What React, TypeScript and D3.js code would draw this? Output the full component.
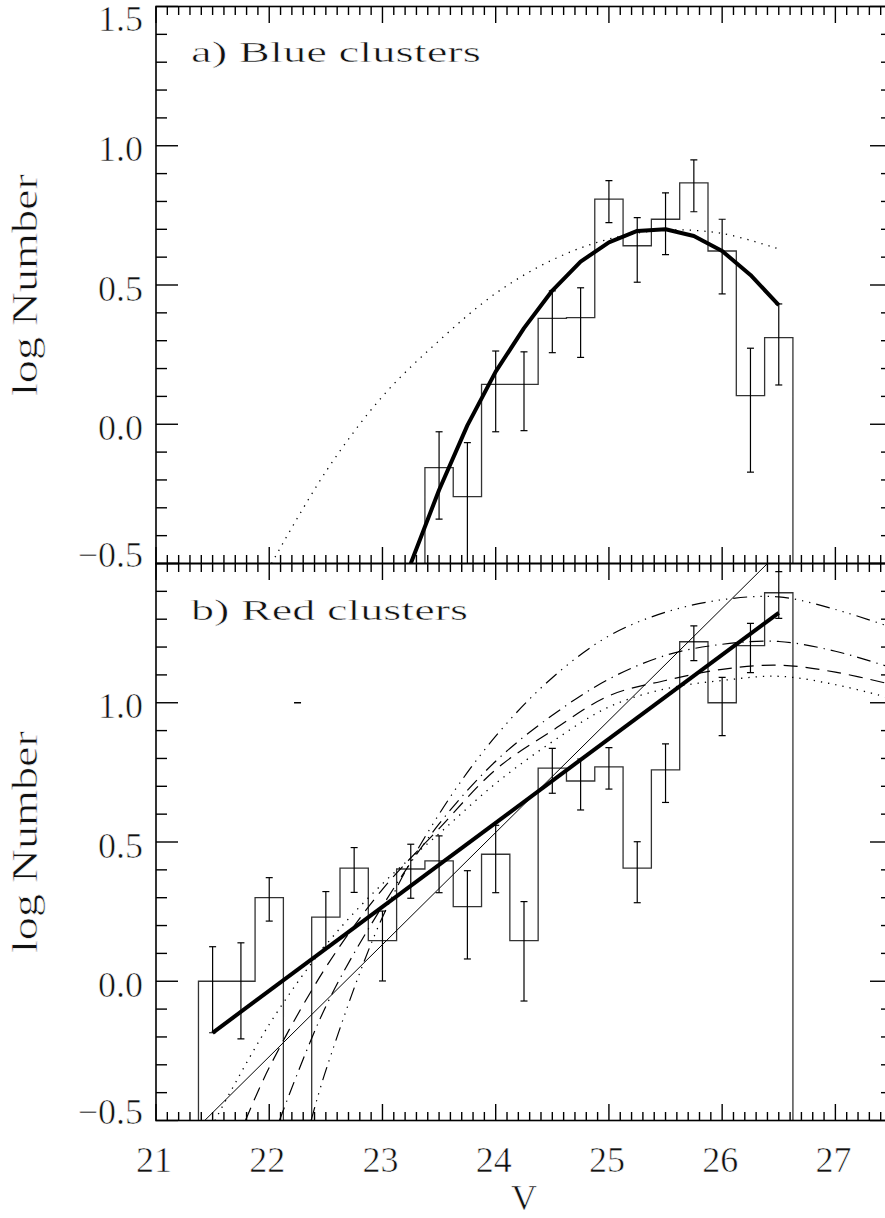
import React from "react";
import * as d3 from "d3";

// ---------- axes ----------
const vDomain: [number, number] = [21, 27.5];
const logDomain: [number, number] = [-0.5, 1.5];
const vTickLabels = [21, 22, 23, 24, 25, 26, 27];
const topLogLabels = [1.5, 1.0, 0.5, 0.0, -0.5];
const botLogLabels = [1.0, 0.5, 0.0, -0.5];
const binHalf = 0.125;

// ---------- a) Blue clusters ----------
const blueV = [23.5, 23.75, 24.0, 24.25, 24.5, 24.75, 25.0, 25.25, 25.5, 25.75, 26.0, 26.25, 26.5];
const blueLogN = [-0.156, -0.26, 0.143, 0.143, 0.38, 0.383, 0.808, 0.641, 0.736, 0.867, 0.622, 0.103, 0.311];
const blueErrHi = [-0.027, -0.066, 0.263, 0.26, 0.479, 0.49, 0.875, 0.742, 0.831, 0.949, 0.736, 0.273, 0.432];
const blueErrLo: (number | null)[] = [-0.341, null, -0.027, -0.023, 0.257, 0.24, 0.724, 0.51, 0.609, 0.763, 0.468, -0.172, 0.141];

const blueFitV = [23.25, 23.5, 23.75, 24.0, 24.25, 24.5, 24.75, 25.0, 25.25, 25.5, 25.75, 26.0, 26.25, 26.5];
const blueFitLogN = [-0.5, -0.236, -0.004, 0.189, 0.345, 0.48, 0.584, 0.653, 0.694, 0.7, 0.676, 0.622, 0.536, 0.428];

const blueGaussV = [22.02, 22.5, 23.0, 23.5, 24.0, 24.5, 25.0, 25.5, 26.0, 26.48];
const blueGaussLogN = [-0.5, -0.17, 0.1, 0.3, 0.47, 0.59, 0.665, 0.697, 0.685, 0.632];

// ---------- b) Red clusters ----------
const redV = [21.5, 21.75, 22.0, 22.25, 22.5, 22.75, 23.0, 23.25, 23.5, 23.75, 24.0, 24.25, 24.5, 24.75, 25.0, 25.25, 25.5, 25.75, 26.0, 26.25, 26.5];
const redLogN: (number | null)[] = [0.0, 0.0, 0.3, null, 0.23, 0.406, 0.146, 0.403, 0.432, 0.268, 0.456, 0.146, 0.765, 0.719, 0.77, 0.406, 0.759, 1.219, 1.0, 1.205, 1.395];
const redErrHi: (number | null)[] = [0.124, 0.138, 0.372, null, 0.322, 0.48, 0.252, 0.492, 0.522, 0.397, 0.56, 0.286, 0.836, 0.798, 0.839, 0.501, 0.852, 1.276, 1.091, 1.285, 1.471];
const redErrLo: (number | null)[] = [-0.185, -0.207, 0.216, null, 0.12, 0.319, 0.001, 0.298, 0.318, 0.08, 0.318, -0.071, 0.675, 0.615, 0.69, 0.282, 0.642, 1.151, 0.882, 1.108, 1.303];
const redLoneCapV = 22.25;
const redLoneCapLogN = 1.0;

// power-law fits
const redThickV = [21.5, 26.5];
const redThickLogN = [-0.185, 1.323];
const redThinV = [21.43, 26.4];
const redThinLogN = [-0.5, 1.5];

// Gaussian luminosity functions
const gaussAV = [22.37, 22.5, 23.0, 23.5, 24.0, 24.5, 25.0, 25.5, 26.0, 26.5, 27.0, 27.5];
const gaussALogN = [-0.5, -0.32, 0.23, 0.6, 0.88, 1.09, 1.24, 1.325, 1.37, 1.38, 1.335, 1.27];
const gaussBV = [22.09, 22.5, 23.0, 23.5, 24.0, 24.5, 25.0, 25.5, 26.0, 26.5, 27.0, 27.5];
const gaussBLogN = [-0.5, -0.09, 0.27, 0.565, 0.79, 0.955, 1.085, 1.17, 1.21, 1.22, 1.185, 1.125];
const gaussCV = [21.79, 22.0, 22.5, 23.0, 23.5, 24.0, 24.5, 25.0, 25.5, 26.0, 26.5, 27.0, 27.5];
const gaussCLogN = [-0.5, -0.31, 0.05, 0.33, 0.548, 0.76, 0.9, 1.025, 1.08, 1.12, 1.135, 1.11, 1.065];
const gaussDV = [21.52, 22.0, 22.5, 23.0, 23.5, 24.0, 24.5, 25.0, 25.5, 26.0, 26.5, 27.0, 27.5];
const gaussDLogN = [-0.5, -0.155, 0.13, 0.35, 0.53, 0.71, 0.86, 0.985, 1.05, 1.08, 1.095, 1.065, 1.015];

// ---------- layout ----------
const W = 885;
const H = 1218;
const X0 = 156;
const X1 = 892;
const Y_TOP = 6.5;
const Y_MID = 563.5;
const Y_BOT = 1120.5;
const FONT = "'Liberation Serif', 'DejaVu Serif', serif";
// a faint white outline painted over the glyphs keeps the lettering light
const thinText = { stroke: "#fff", strokeWidth: 0.6, strokeLinejoin: "round" as const };

const x = d3.scaleLinear().domain(vDomain).range([X0, X1]);
const yA = d3.scaleLinear().domain(logDomain).range([Y_MID, Y_TOP]);
const yB = d3.scaleLinear().domain(logDomain).range([Y_BOT, Y_MID]);
const fmt = d3.format(".1f");

type Scale = d3.ScaleLinear<number, number>;

function histPath(centers: number[], vals: (number | null)[], y: Scale) {
  const floor = logDomain[0];
  const p = d3.path();
  p.moveTo(x(centers[0] - binHalf), y(floor));
  centers.forEach((c, i) => {
    const v = vals[i] ?? floor;
    p.lineTo(x(c - binHalf), y(v));
    p.lineTo(x(c + binHalf), y(v));
  });
  p.lineTo(x(centers[centers.length - 1] + binHalf), y(floor));
  return p.toString();
}

function curve(vs: number[], ls: number[], y: Scale, smooth: boolean) {
  const gen = d3
    .line<number>()
    .x((_, i) => x(vs[i]))
    .y((d) => y(d))
    .curve(smooth ? d3.curveCatmullRom.alpha(0.5) : d3.curveLinear);
  return gen(ls) || "";
}

function ErrorBars({ vs, hi, lo, y }: { vs: number[]; hi: (number | null)[]; lo: (number | null)[]; y: Scale }) {
  const cap = 3.5;
  return (
    <g stroke="#000" strokeWidth={1.2}>
      {vs.map((v, i) => {
        const h = hi[i];
        if (h == null) return null;
        const l = lo[i];
        const xc = x(v);
        const yh = y(h);
        const yl = y(l ?? logDomain[0]);
        return (
          <g key={i}>
            <line x1={xc} x2={xc} y1={yh} y2={yl} />
            <line x1={xc - cap} x2={xc + cap} y1={yh} y2={yh} />
            {l != null && <line x1={xc - cap} x2={xc + cap} y1={yl} y2={yl} />}
          </g>
        );
      })}
    </g>
  );
}

function Frame({ y, top, bottom, labels, showX }: { y: Scale; top: number; bottom: number; labels: number[]; showX: boolean }) {
  const yTicks = d3.range(-5, 16).map((i) => ({ v: i / 10, major: i % 5 === 0 }));
  const xTicks = d3.range(210, 276).map((i) => ({ v: i / 10, major: i % 10 === 0 }));
  const yMaj = 22;
  const yMin = 11;
  const xMaj = 16.5;
  const xMin = 8.5;
  const labelBaseline = (v: number) => {
    const yy = y(v);
    if (v === logDomain[1]) return yy + 24.5;
    if (v === logDomain[0]) return yy + 3.5;
    return yy + 15.5;
  };
  return (
    <g>
      <g stroke="#000" strokeWidth={1.4}>
        {yTicks.map((t, i) => {
          const yy = y(t.v);
          const len = t.major ? yMaj : yMin;
          return (
            <g key={i}>
              <line x1={X0} x2={X0 + len} y1={yy} y2={yy} />
              <line x1={X1} x2={X1 - len} y1={yy} y2={yy} />
            </g>
          );
        })}
        {xTicks.map((t, i) => {
          const xx = x(t.v);
          const len = t.major ? xMaj : xMin;
          return (
            <g key={i}>
              <line x1={xx} x2={xx} y1={bottom} y2={bottom - len} />
              <line x1={xx} x2={xx} y1={top} y2={top + len} />
            </g>
          );
        })}
        <rect x={X0} y={top} width={X1 - X0} height={bottom - top} fill="none" strokeWidth={1.6} />
      </g>
      <g fontFamily={FONT} fontSize={36} fill="#111" {...thinText}>
        {labels.map((v) => (
          <text key={v} x={143} y={labelBaseline(v)} textAnchor="end">
            {fmt(v)}
          </text>
        ))}
        {showX &&
          vTickLabels.map((v) => (
            <text key={v} x={x(v) - 2} y={1172} textAnchor="middle">
              {v}
            </text>
          ))}
      </g>
    </g>
  );
}

export default function App() {
  const clipA = { x: X0, y: Y_TOP, w: X1 - X0, h: Y_MID - Y_TOP };
  const clipB = { x: X0, y: Y_MID, w: X1 - X0, h: Y_BOT - Y_MID };
  return (
    <div style={{ position: "absolute", left: 0, top: 0 }}>
      <svg width={W} height={H} viewBox={`0 0 ${W} ${H}`} style={{ display: "block", background: "#fff" }}>
        <defs>
          <clipPath id="clip-a">
            <rect x={clipA.x} y={clipA.y} width={clipA.w} height={clipA.h} />
          </clipPath>
          <clipPath id="clip-b">
            <rect x={clipB.x} y={clipB.y} width={clipB.w} height={clipB.h} />
          </clipPath>
        </defs>

        {/* a) Blue clusters */}
        <g clipPath="url(#clip-a)">
          <path d={histPath(blueV, blueLogN, yA)} fill="none" stroke="#333" strokeWidth={1.3} />
          <ErrorBars vs={blueV} hi={blueErrHi} lo={blueErrLo} y={yA} />
          <path d={curve(blueGaussV, blueGaussLogN, yA, true)} fill="none" stroke="#000" strokeWidth={1.3} strokeDasharray="1.3 6" />
          <path d={curve(blueFitV, blueFitLogN, yA, false)} fill="none" stroke="#000" strokeWidth={4} strokeLinejoin="round" />
        </g>
        <Frame y={yA} top={Y_TOP} bottom={Y_MID} labels={topLogLabels} showX={false} />
        <text x={191} y={61.5} fontFamily={FONT} fontSize={30} fill="#111" {...thinText} strokeWidth={0.5} textLength={290} lengthAdjust="spacingAndGlyphs">
          a) Blue clusters
        </text>

        {/* b) Red clusters */}
        <g clipPath="url(#clip-b)">
          <path d={histPath(redV, redLogN, yB)} fill="none" stroke="#333" strokeWidth={1.3} />
          <ErrorBars vs={redV} hi={redErrHi} lo={redErrLo} y={yB} />
          <line
            x1={x(redLoneCapV) - 3.5}
            x2={x(redLoneCapV) + 3.5}
            y1={yB(redLoneCapLogN)}
            y2={yB(redLoneCapLogN)}
            stroke="#000"
            strokeWidth={1.4}
          />
          <path d={curve(gaussAV, gaussALogN, yB, true)} fill="none" stroke="#000" strokeWidth={1.2} strokeDasharray="14 6 1.3 6 1.3 6 1.3 6" />
          <path d={curve(gaussBV, gaussBLogN, yB, true)} fill="none" stroke="#000" strokeWidth={1.2} strokeDasharray="14 6 1.3 6" />
          <path d={curve(gaussCV, gaussCLogN, yB, true)} fill="none" stroke="#000" strokeWidth={1.2} strokeDasharray="14 8" />
          <path d={curve(gaussDV, gaussDLogN, yB, true)} fill="none" stroke="#000" strokeWidth={1.3} strokeDasharray="1.3 6" />
          <path d={curve(redThinV, redThinLogN, yB, false)} fill="none" stroke="#000" strokeWidth={1} />
          <path d={curve(redThickV, redThickLogN, yB, false)} fill="none" stroke="#000" strokeWidth={4} />
        </g>
        <Frame y={yB} top={Y_MID} bottom={Y_BOT} labels={botLogLabels} showX={true} />
        <text x={191} y={620} fontFamily={FONT} fontSize={30} fill="#111" {...thinText} strokeWidth={0.5} textLength={277} lengthAdjust="spacingAndGlyphs">
          b) Red clusters
        </text>

        {/* axis titles */}
        <g fontFamily={FONT} fontSize={36} fill="#111" textAnchor="middle" {...thinText}>
          <text x={(X0 + X1) / 2} y={1210}>V</text>
          {[yA, yB].map((y, i) => {
            const cy = (y.range()[0] + y.range()[1]) / 2;
            return (
              <text key={i} transform={`translate(37,${cy}) rotate(-90)`} textLength={222} lengthAdjust="spacingAndGlyphs">
                log Number
              </text>
            );
          })}
        </g>
      </svg>
    </div>
  );
}
